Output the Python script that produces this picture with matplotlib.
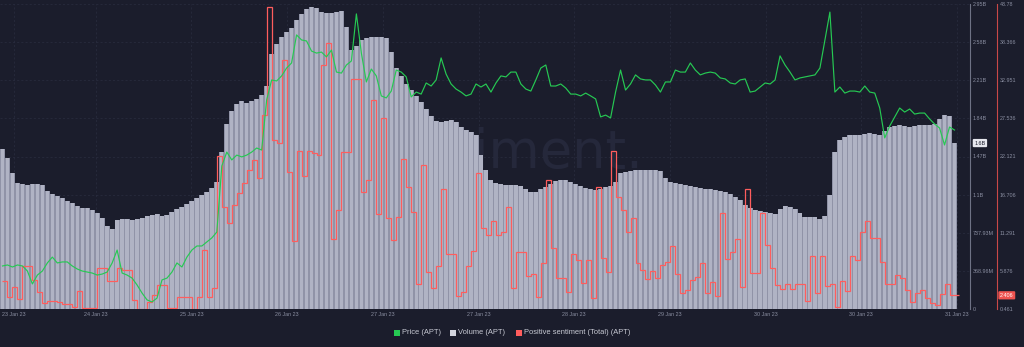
import numpy as np
import matplotlib
matplotlib.use("Agg")
import matplotlib.pyplot as plt
from matplotlib.patches import Rectangle
from matplotlib.transforms import blended_transform_factory

# ---- data (hourly, 23 Jan 23 -> 31 Jan 23) ----
volume_b = [  # trading volume, billions
    1.548, 1.461, 1.316, 1.219, 1.205, 1.200, 1.210, 1.210, 1.200, 1.142,
    1.113, 1.094, 1.074, 1.045, 1.026, 0.997, 0.982, 0.973, 0.958, 0.929,
    0.881, 0.803, 0.774, 0.861, 0.871, 0.871, 0.861, 0.871, 0.881, 0.900,
    0.910, 0.919, 0.900, 0.910, 0.939, 0.968, 0.987, 1.016, 1.045, 1.074,
    1.103, 1.132, 1.171, 1.229, 1.519, 1.790, 1.916, 1.984, 2.013, 1.994,
    2.013, 2.032, 2.071, 2.158, 2.468, 2.565, 2.632, 2.681, 2.719, 2.797,
    2.855, 2.903, 2.923, 2.913, 2.874, 2.865, 2.865, 2.874, 2.884, 2.729,
    2.507, 2.545, 2.603, 2.623, 2.632, 2.632, 2.632, 2.623, 2.487, 2.332,
    2.255, 2.177, 2.119, 2.061, 2.003, 1.936, 1.868, 1.819, 1.810, 1.819,
    1.829, 1.810, 1.761, 1.732, 1.713, 1.684, 1.490, 1.345, 1.248, 1.219,
    1.210, 1.200, 1.200, 1.200, 1.190, 1.161, 1.132, 1.132, 1.161, 1.181,
    1.210, 1.239, 1.248, 1.248, 1.229, 1.210, 1.190, 1.171, 1.161, 1.152,
    1.161, 1.181, 1.190, 1.229, 1.316, 1.326, 1.336, 1.345, 1.345, 1.345,
    1.345, 1.345, 1.336, 1.268, 1.229, 1.219, 1.210, 1.200, 1.190, 1.181,
    1.171, 1.161, 1.161, 1.152, 1.142, 1.132, 1.113, 1.084, 1.055, 1.006,
    0.977, 0.958, 0.948, 0.939, 0.929, 0.919, 0.968, 0.997, 0.987, 0.968,
    0.929, 0.890, 0.890, 0.890, 0.871, 0.900, 1.103, 1.519, 1.636, 1.665,
    1.684, 1.684, 1.684, 1.694, 1.703, 1.694, 1.684, 1.723, 1.761, 1.771,
    1.781, 1.771, 1.761, 1.771, 1.781, 1.781, 1.781, 1.790, 1.839, 1.877,
    1.868, 1.606,
]

price_usd = [
    7.43, 7.48, 7.38, 7.48, 7.43, 7.18, 6.54, 6.98, 7.18, 7.58,
    7.87, 7.58, 7.63, 7.63, 7.43, 7.28, 7.18, 7.13, 7.08, 6.98,
    7.03, 7.13, 7.58, 8.22, 7.08, 6.98, 6.83, 6.49, 6.09, 5.75,
    5.65, 5.84, 6.74, 6.83, 7.13, 7.58, 7.38, 7.87, 8.22, 8.42,
    8.42, 8.62, 8.82, 9.11, 12.38, 13.07, 12.68, 12.92, 12.83, 12.92,
    13.07, 13.27, 13.17, 15.65, 16.64, 16.59, 16.84, 17.23, 17.48, 18.87,
    18.62, 18.57, 18.07, 17.97, 18.02, 17.78, 18.12, 17.03, 16.98, 17.38,
    17.58, 19.91, 17.97, 16.54, 17.18, 16.84, 15.85, 15.75, 16.09, 17.13,
    17.03, 16.79, 15.80, 16.04, 15.94, 16.49, 16.34, 16.64, 17.73, 16.93,
    16.44, 16.19, 16.04, 15.85, 15.94, 16.44, 16.29, 16.44, 16.04, 16.49,
    16.84, 16.79, 17.03, 17.03, 16.44, 16.19, 16.09, 16.64, 17.23, 17.38,
    16.34, 16.34, 16.44, 16.24, 15.94, 15.94, 15.85, 15.99, 15.85, 15.70,
    14.81, 14.90, 14.76, 16.04, 17.13, 16.14, 16.44, 16.89, 16.69, 16.64,
    16.64, 16.39, 16.04, 16.54, 16.54, 17.13, 17.03, 17.03, 17.48, 17.13,
    16.89, 16.98, 17.03, 16.98, 16.74, 16.69, 16.49, 16.44, 16.64, 16.69,
    16.04, 16.09, 16.29, 16.49, 16.44, 16.64, 17.83, 17.38, 17.03, 16.64,
    16.74, 16.79, 16.84, 16.89, 17.23, 18.62, 20.00, 16.04, 16.29, 15.99,
    16.09, 16.09, 16.04, 16.34, 16.04, 15.99, 15.25, 13.77, 14.36, 14.81,
    15.25, 15.05, 15.20, 14.95, 15.00, 15.00, 14.71, 14.46, 14.26, 13.42,
    14.31, 14.16,
]

positive_sentiment = [
    4.44, 2.17, 3.59, 1.88, 6.57, 6.57, 4.58, 2.88, 1.31, 1.60,
    1.60, 1.46, 1.17, 1.17, 0.75, 3.02, 0.60, 0.60, 0.60, 6.28,
    6.28, 4.44, 4.44, 6.28, 6.00, 6.00, 1.74, 0.46, 0.46, 1.46,
    2.45, 3.87, 3.87, 0.60, 0.60, 2.17, 2.17, 2.17, 0.46, 2.17,
    8.84, 2.17, 3.44, 22.19, 14.95, 12.67, 15.23, 16.94, 18.36, 20.20,
    21.62, 19.07, 28.01, 43.35, 24.46, 24.04, 35.83, 19.92, 10.12, 22.90,
    19.35, 22.90, 22.62, 22.33, 35.12, 38.24, 10.40, 14.52, 22.76, 22.76,
    33.13, 33.13, 17.08, 18.78, 30.15, 13.95, 27.59, 13.38, 10.26, 13.53,
    21.77, 17.79, 14.24, 4.01, 20.91, 5.72, 3.44, 6.57, 17.50, 8.27,
    8.27, 2.31, 2.88, 6.57, 8.70, 19.78, 11.96, 10.97, 12.96, 10.97,
    11.40, 14.95, 3.44, 8.56, 8.56, 5.15, 5.43, 2.17, 6.99, 18.78,
    9.12, 4.86, 4.86, 2.88, 8.27, 7.42, 4.15, 7.42, 2.02, 17.79,
    7.70, 5.72, 22.90, 16.37, 14.52, 11.40, 13.38, 6.99, 6.00, 4.72,
    5.86, 4.86, 6.71, 7.14, 9.41, 5.43, 2.73, 3.16, 4.58, 5.00,
    6.99, 2.73, 4.30, 2.31, 14.09, 7.56, 8.56, 10.40, 3.59, 17.50,
    5.57, 5.57, 14.09, 9.55, 6.28, 3.87, 3.30, 4.01, 3.30, 4.01,
    4.01, 1.60, 7.99, 2.73, 7.99, 3.73, 4.01, 0.75, 4.44, 3.02,
    7.99, 7.42, 11.40, 12.96, 10.54, 10.54, 7.14, 4.01, 4.01, 5.29,
    4.86, 3.16, 1.46, 2.73, 3.16, 2.02, 1.31, 1.03, 2.59, 4.01,
    2.45, 2.406,
]

date_labels = ["23 Jan 23", "24 Jan 23", "25 Jan 23", "26 Jan 23", "27 Jan 23",
               "27 Jan 23", "28 Jan 23", "29 Jan 23", "30 Jan 23", "30 Jan 23",
               "31 Jan 23"]
volume_tick_labels = ["0", "368.96M", "737.93M", "1.1B", "1.47B", "1.84B",
                      "2.21B", "2.58B", "2.95B"]
sentiment_tick_labels = ["0.461", "5.876", "11.291", "16.706", "22.121",
                         "27.536", "32.951", "38.366", "43.78"]
legend_items = ["Price (APT)", "Volume (APT)", "Positive sentiment (Total) (APT)"]

assert len(volume_b) == len(price_usd) == len(positive_sentiment)

# ---- style ----
BG = "#1b1d2c"
GRID = "#2a2d40"
TICK = "#8a8ea1"
BAR_LIGHT = "#b0b3c4"
BAR_DARK = "#9093a7"
GREEN = "#26c953"
RED = "#ff5d5d"
plt.rcParams["font.family"] = ["Liberation Sans", "DejaVu Sans"]

W, H = 1024, 347
fig = plt.figure(figsize=(W / 100, H / 100), dpi=100, facecolor=BG)
ax = fig.add_axes([0, 38 / H, 970 / W, 305 / H])
ax_sent = ax.twinx()
ax_price = ax.twinx()

n = len(volume_b)
x = np.arange(n)
px_per_bar = 957 / n
ax.set_xlim(-0.5, -0.5 + 970 / px_per_bar)

# volume bars
ax.set_facecolor(BG)
ax.set_axisbelow(True)
ax.bar(x, volume_b, width=1.0, color=BAR_DARK, linewidth=0, zorder=1)
ax.bar(x, volume_b, width=0.68, color=BAR_LIGHT, linewidth=0, zorder=2)

vol_max = 2.9517
ax.set_ylim(0, vol_max)
ax.set_yticks(np.linspace(0, vol_max, 9))
ax.set_yticklabels(volume_tick_labels)
ax.yaxis.tick_right()
ax.tick_params(axis="y", length=0, pad=2.2, labelsize=3.9, labelcolor=TICK)

# date ticks every 19.2 h; the first label sits just inside the left edge
tick_pos = np.arange(len(date_labels)) * 19.2 - 0.5
tick_pos[0] = 14 / px_per_bar - 0.5
ax.set_xticks(tick_pos)
ax.set_xticklabels(date_labels)
ax.tick_params(axis="x", length=0, pad=2.4, labelsize=3.9, labelcolor=TICK)

ax.grid(True, color=GRID, linestyle=(0, (3, 3)), linewidth=0.5)
for side in ("left", "top", "bottom"):
    ax.spines[side].set_visible(False)
ax.spines["right"].set_color("#6e7285")
ax.spines["right"].set_linewidth(0.8)

# watermark
ax.text(502 / 970, 1 - 164 / 305, "santiment.", transform=ax.transAxes,
        ha="center", va="baseline", fontsize=38, color="#25283b",
        family="DejaVu Sans", zorder=0.8)

# positive sentiment stairs
ax_sent.stairs(positive_sentiment, np.arange(n + 1), color=RED, linewidth=0.9,
               baseline=None)
sent_min, sent_max = 0.461, 43.781
ax_sent.set_ylim(sent_min, sent_max)
ax_sent.set_yticks(np.linspace(sent_min, sent_max, 9))
ax_sent.set_yticklabels(sentiment_tick_labels)
ax_sent.tick_params(axis="y", length=0, pad=2.2, labelsize=3.9, labelcolor=TICK)
for side in ("left", "top", "bottom"):
    ax_sent.spines[side].set_visible(False)
ax_sent.spines["right"].set_position(("axes", 997 / 970))
ax_sent.spines["right"].set_color("#c94848")
ax_sent.spines["right"].set_linewidth(0.8)

# price line (own hidden scale)
ax_price.plot(x, price_usd, color=GREEN, linewidth=0.85)
ax_price.set_ylim(5.3, 20.4)
ax_price.set_yticks([])
for side in ax_price.spines.values():
    side.set_visible(False)

# latest-value badges
vol_tr = blended_transform_factory(ax.transAxes, ax.transData)
ax.text(1.0045, volume_b[-1], f"{volume_b[-1]:.1f}B", transform=vol_tr,
        ha="left", va="center", fontsize=3.9, color=BG,
        bbox=dict(boxstyle="round,pad=0.3,rounding_size=0.2", fc="#e6e7ee", ec="none"))
sent_tr = blended_transform_factory(ax_sent.transAxes, ax_sent.transData)
ax_sent.text(1000 / 970, positive_sentiment[-1], f"{positive_sentiment[-1]:.3f}",
             transform=sent_tr, ha="left", va="center", fontsize=3.9, color="white",
             bbox=dict(boxstyle="round,pad=0.3,rounding_size=0.2", fc="#ef5350", ec="none"))

# legend
legend_colors = [GREEN, "#d3d5de", RED]
legend_x = [394, 450, 516]
ly = 333
for lx, col, lab in zip(legend_x, legend_colors, legend_items):
    fig.add_artist(Rectangle((lx / W, (H - ly - 3) / H), 6 / W, 6 / H,
                             transform=fig.transFigure, facecolor=col, edgecolor="none"))
    fig.text((lx + 8.5) / W, (H - ly) / H, lab, ha="left", va="center",
             fontsize=5.4, color="#c8cad4")

fig.savefig("out.png", dpi=100, facecolor=BG)
